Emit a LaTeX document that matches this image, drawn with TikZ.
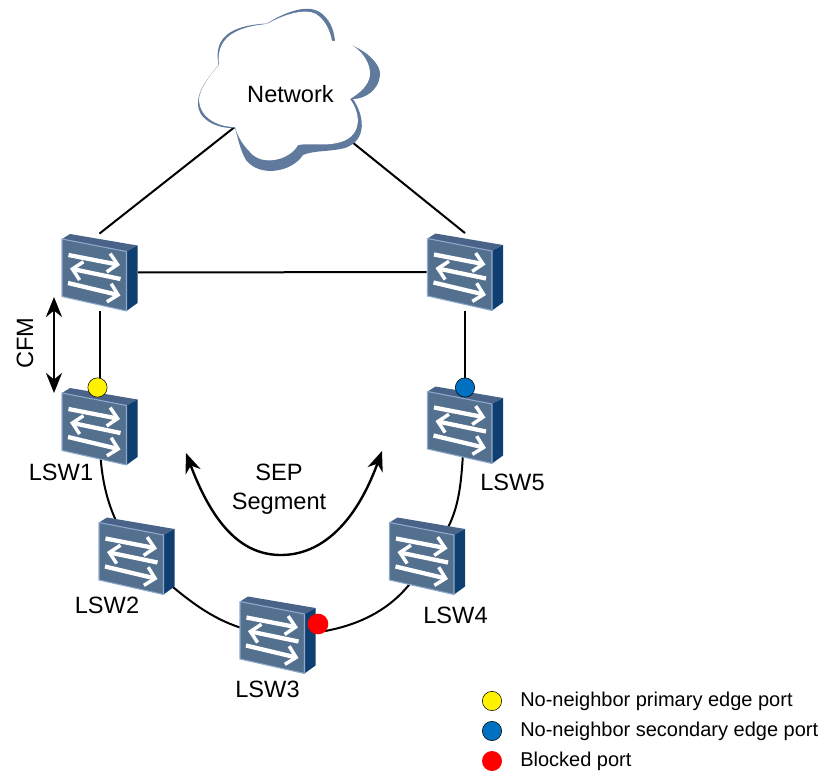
\documentclass[tikz,border=0pt]{standalone}
\usepackage{fontspec}
\setmainfont{Liberation Sans}
\usepackage{tikz}
\usetikzlibrary{arrows.meta}
\definecolor{swface}{HTML}{54708F}
\definecolor{swtop}{HTML}{4A6489}
\definecolor{swside}{HTML}{0F3F70}
\definecolor{swedge}{HTML}{8FA9CC}
\definecolor{cloudshade}{HTML}{5F7A9C}
\definecolor{portblue}{HTML}{0070C0}
\tikzset{
  swbox/.style={inner sep=0pt,minimum width=57pt,minimum height=58pt},
  label/.style={font=\fontsize{17.7}{20}\selectfont,inner sep=0pt},
  legend/.style={font=\fontsize{15}{18}\selectfont,inner sep=0pt,anchor=west},
  link/.style={line width=1.5pt},
  bigarrow/.style={line width=2.2pt,{Stealth[length=15pt,width=12pt]}-{Stealth[length=15pt,width=12pt]}},
  port/.style={circle,draw=black,line width=0.4pt,minimum size=14.5pt,inner sep=0pt},
  swarrow/.style={white,line width=3.2pt,-{Straight Barb[length=7pt,width=14pt,line width=2.6pt]}},
  switch/.pic={
    \fill[swtop] (-37.5,-33.5) -- (-29.5,-38.5) -- (38,-27) -- (27,-21) -- cycle;
    \fill[swside] (27,-21) -- (38,-27) -- (38,30.5) -- (27,38.5) -- cycle;
    \draw[swedge,fill=swface,line width=0.8pt,line join=round] (-37.5,-33.5) -- (27,-21) -- (27,38.5) -- (-37.5,24) -- cycle;
    \draw[swarrow] (-31,-17.5) -- (20.5,-7.5);
    \draw[swarrow] (21,6.5) -- (-29.5,-4);
    \draw[swarrow] (-31.5,10.5) -- (21,23);
  }
}
\begin{document}
\begin{tikzpicture}[x=0.75pt,y=-0.75pt]
  \useasboundingbox (0,0) rectangle (818,771);

  \node[swbox] (top1) at (99.5,272.5) {};
  \node[swbox] (top2) at (465,272) {};
  \node[swbox] (lsw1) at (99.5,426.5) {};
  \node[swbox] (lsw2) at (136.5,556) {};
  \node[swbox] (lsw3) at (277.5,635) {};
  \node[swbox] (lsw4) at (427,556) {};
  \node[swbox] (lsw5) at (465,425) {};
  \coordinate (cloudl) at (236,126);
  \coordinate (cloudr) at (352,142);

  % Links
  \draw[link] (cloudl) -- (top1.north);
  \draw[link] (cloudr) -- (top2.north);
  \draw[link] (top1) -- (top2);
  \draw[link] (top1) -- (lsw1);
  \draw[link] (top2) -- (lsw5);
  \draw[link] (lsw1.center) to[out=-90,in=125] (lsw2.center);
  \draw[link] (lsw2.center) to[out=-40,in=175] (lsw3.center);
  \draw[link] (lsw3.center) to[out=0,in=-115] (lsw4.center);
  \draw[link] (lsw4.center) to[out=45,in=-95] (lsw5.center);

  % Cloud
  \fill[cloudshade] (218.5,65) .. controls (215,45) and (220,26) .. (267,23.5)
    .. controls (285,12) and (305,5) .. (318,11)
    .. controls (330,18) and (334,30) .. (335,41)
    .. controls (360,44) and (381,62) .. (380,75)
    .. controls (379,90) and (365,99) .. (353,99)
    .. controls (364,115) and (368,140) .. (345,148)
    .. controls (330,152) and (315,150) .. (303,155)
    .. controls (292,172) and (260,178) .. (246,160)
    .. controls (240,150) and (238,138) .. (235,128)
    .. controls (215,129) and (197,118) .. (198,103)
    .. controls (198,90) and (208,78) .. (218.5,65) -- cycle;
  \fill[white] (219,65) .. controls (217,48) and (222,28) .. (267,24)
    .. controls (285,14) and (305,8) .. (316,14)
    .. controls (325,20) and (330,30) .. (332,41)
    .. controls (352,38) and (371,58) .. (370,75)
    .. controls (369,85) and (360,93) .. (350,99)
    .. controls (362,115) and (362,138) .. (337,143)
    .. controls (325,146) and (310,143) .. (298,145)
    .. controls (290,160) and (262,167) .. (250,152)
    .. controls (243,145) and (238,137) .. (235,127)
    .. controls (218,127) and (200,118) .. (199,100)
    .. controls (199,90) and (210,75) .. (219,65) -- cycle;
  \node[label] (network) at (290.5,94) {Network};

  % Switches
  \foreach \sw in {top1,top2,lsw1,lsw2,lsw3,lsw4,lsw5}
    \pic at (\sw) {switch};

  % Ports
  \node[port,fill=yellow] (porta) at (97.5,387.5) {};
  \node[port,fill=portblue] (portb) at (465,387.5) {};
  \node[port,fill=red,draw=none,minimum size=15.5pt] (portc) at (318,624) {};

  \node[label] (lbl1) at (61,472) {LSW1};
  \node[label] (lbl2) at (107,605) {LSW2};
  \node[label] (lbl3) at (267.5,689) {LSW3};
  \node[label] (lbl4) at (455.5,615) {LSW4};
  \node[label] (lbl5) at (512.5,482) {LSW5};

  % Arrows
  \coordinate (cfmt) at (54,297);
  \coordinate (cfmb) at (54,393);
  \coordinate (sega) at (186,453);
  \coordinate (segb) at (382,451);
  \draw[bigarrow] (cfmt) -- (cfmb);
  \node[label,rotate=90] (cfm) at (25,343) {CFM};
  \draw[bigarrow,line width=1.8pt] (sega) .. controls (215,530) and (245,555) .. (281,555)
    .. controls (320,555) and (355,525) .. (segb);
  \node[label,align=center,font=\fontsize{17.7}{22}\selectfont] (seg) at (279,489) {SEP\\Segment};

  % Legend
  \node[port,fill=yellow] (keya) at (492,701) {};
  \node[port,fill=portblue] (keyb) at (492,731) {};
  \node[port,fill=red,draw=none,minimum size=15pt] (keyc) at (492,761) {};
  \node[legend] (texta) at (520,701) {No-neighbor primary edge port};
  \node[legend] (textb) at (520,731) {No-neighbor secondary edge port};
  \node[legend] (textc) at (520,761) {Blocked port};
\end{tikzpicture}
\end{document}
